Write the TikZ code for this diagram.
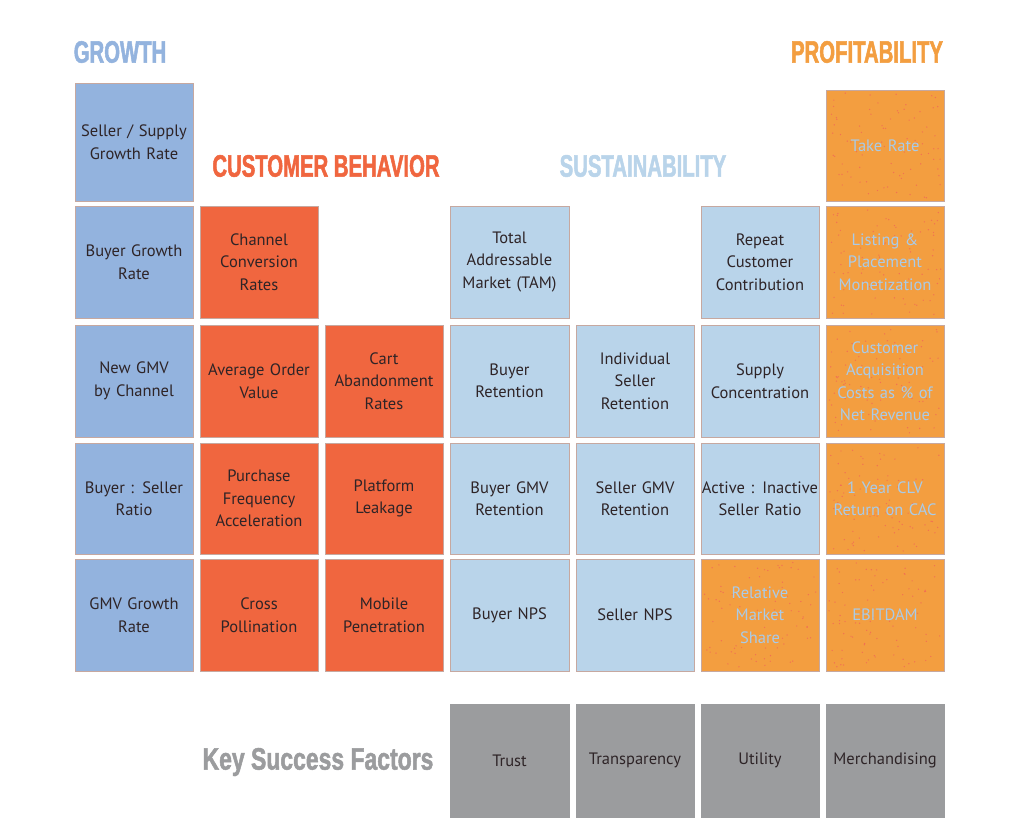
\documentclass[tikz,border=0pt]{standalone}
\usepackage{fontspec}
\setmainfont{PT Sans}
\newfontfamily\headfont[FakeStretch=0.655, FakeBold=1.6]{Liberation Sans Bold}
\newfontfamily\keyheadfont[FakeStretch=0.74, FakeBold=1.6]{Liberation Sans Bold}
\definecolor{growthblue}{HTML}{93B3DE}
\definecolor{behavred}{HTML}{F0663F}
\definecolor{sustblue}{HTML}{B9D4EA}
\definecolor{profitorange}{HTML}{F39E40}
\definecolor{keygray}{HTML}{9B9C9E}
\definecolor{inkdark}{HTML}{2E2427}
\definecolor{paleink}{HTML}{A9CBE8}
\definecolor{speck}{HTML}{F2605A}
\definecolor{rim}{HTML}{C6A8A0}
\tikzset{
  cell/.style={draw=rim, line width=0.6pt, minimum width=118pt, minimum height=112pt,
    inner sep=0pt, align=center, text width=118pt, font=\fontsize{16.5}{22.5}\selectfont,
    text=inkdark},
  growthcell/.style={cell, fill=growthblue},
  behavcell/.style={cell, fill=behavred},
  sustcell/.style={cell, fill=sustblue},
  profitcell/.style={cell, text=paleink},
  keycell/.style={cell, fill=keygray, draw=keygray, minimum height=113pt},
  heading/.style={font=\headfont\fontsize{31}{31}\selectfont, inner sep=0pt},
}
% orange tile with fine red specks, centred at (#1,#2), height #3
\newcommand{\profittile}[3]{%
  \fill[profitorange] (#1-59,#2-#3/2) rectangle (#1+59,#2+#3/2);
  \foreach \k in {1,...,85}{%
    \pgfmathsetmacro{\sx}{#1+56*rand}%
    \pgfmathsetmacro{\sy}{#2+(#3/2-3)*rand}%
    \fill[speck, opacity=0.75] (\sx,\sy) circle[radius=0.7pt];
  }}
\begin{document}
\begin{tikzpicture}[x=1pt,y=-1pt]
\useasboundingbox[fill=white] (0,0) rectangle (1024,819);
\pgfmathsetseed{4242}

% headings
\node[heading, text=growthblue] (hgrowth) at (120,52) {GROWTH};
\node[heading, text=profitorange] (hprofit) at (867,52) {PROFITABILITY};
\node[heading, text=behavred] (hbehav) at (326,166) {CUSTOMER BEHAVIOR};
\node[heading, text=sustblue] (hsust) at (643,166) {SUSTAINABILITY};
\node[heading, font=\keyheadfont\fontsize{31}{31}\selectfont, text=keygray] (hkey) at (318,762) {Key Success Factors};

% growth column
\node[growthcell, minimum height=118pt] (g0) at (134,142) {Seller / Supply\\Growth Rate};
\node[growthcell] (g1) at (134,262) {Buyer Growth\\Rate};
\node[growthcell] (g2) at (134,381) {New GMV\\by Channel};
\node[growthcell, minimum height=111pt] (g3) at (134,498.5) {Buyer : Seller\\Ratio};
\node[growthcell] (g4) at (134,615) {GMV Growth\\Rate};

% customer behavior
\node[behavcell] (b1) at (259,262) {Channel\\Conversion\\Rates};
\node[behavcell] (b2) at (259,381) {Average Order\\Value};
\node[behavcell, minimum height=111pt] (b3) at (259,498.5) {Purchase\\Frequency\\Acceleration};
\node[behavcell] (b4) at (259,615) {Cross\\Pollination};
\node[behavcell] (c2) at (384,381) {Cart\\Abandonment\\Rates};
\node[behavcell, minimum height=111pt] (c3) at (384,498.5) {Platform\\Leakage};
\node[behavcell] (c4) at (384,615) {Mobile\\Penetration};

% sustainability
\node[sustcell, minimum width=119pt] (s1) at (509.5,262) {Total\\Addressable\\Market (TAM)};
\node[sustcell, minimum width=119pt] (s2) at (509.5,381) {Buyer\\Retention};
\node[sustcell, minimum width=119pt, minimum height=111pt] (s3) at (509.5,498.5) {Buyer GMV\\Retention};
\node[sustcell, minimum width=119pt] (s4) at (509.5,615) {Buyer NPS};
\node[sustcell] (t2) at (635,381) {Individual\\Seller\\Retention};
\node[sustcell, minimum height=111pt] (t3) at (635,498.5) {Seller GMV\\Retention};
\node[sustcell] (t4) at (635,615) {Seller NPS};
\node[sustcell] (u1) at (760,262) {Repeat\\Customer\\Contribution};
\node[sustcell] (u2) at (760,381) {Supply\\Concentration};
\node[sustcell, minimum height=111pt] (u3) at (760,498.5) {Active : Inactive\\Seller Ratio};

% profitability
\profittile{760}{615}{112}
\node[profitcell] (u4) at (760,615) {Relative\\Market\\Share};
\profittile{885}{145.5}{111}
\node[profitcell, minimum height=111pt] (p0) at (885,145.5) {Take Rate};
\profittile{885}{262}{112}
\node[profitcell] (p1) at (885,262) {Listing \&\\Placement\\Monetization};
\profittile{885}{381}{112}
\node[profitcell] (p2) at (885,381) {Customer\\Acquisition\\Costs as \% of\\Net Revenue};
\profittile{885}{498.5}{111}
\node[profitcell, minimum height=111pt] (p3) at (885,498.5) {1 Year CLV\\Return on CAC};
\profittile{885}{615}{112}
\node[profitcell] (p4) at (885,615) {EBITDAM};

% key success factors
\node[keycell, minimum width=119pt] (k1) at (509.5,760.5) {Trust};
\node[keycell] (k2) at (635,760.5) {Transparency};
\node[keycell] (k3) at (760,760.5) {Utility};
\node[keycell] (k4) at (885,760.5) {Merchandising};
\end{tikzpicture}
\end{document}
